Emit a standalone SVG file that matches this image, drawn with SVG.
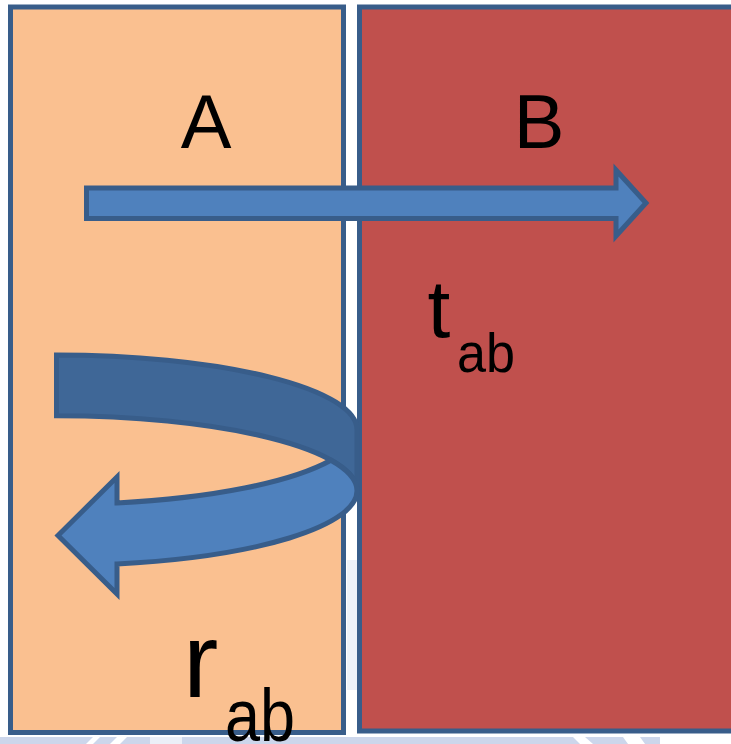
<svg xmlns="http://www.w3.org/2000/svg" width="731" height="744" viewBox="0 0 731 744">
  <style>
    .box { stroke: #385D8A; stroke-width: 5; }
    .arrow { fill: #4F81BD; stroke: #385D8A; stroke-width: 5; stroke-linejoin: miter; }
    .arrowdark { fill: #3F6797; stroke: #385D8A; stroke-width: 5; stroke-linejoin: miter; }
    .lbl { font-family: "Liberation Sans", Arial, sans-serif; fill: #000000; }
    .wm { fill: #C3CFE8; }
  </style>
  <rect x="0" y="0" width="731" height="744" fill="#FFFFFF"/>
  <g id="watermark">
    <rect class="wm" x="347" y="560" width="10" height="130" opacity="0.3"/>
    <rect class="wm" x="0" y="737" width="731" height="7" opacity="0.85"/>
    <polygon points="86,744 93,737 100,737 93,744" fill="#FFFFFF"/>
    <polygon points="110,744 117,737 127,737 120,744" fill="#FFFFFF"/>
    <polygon points="150,737 182,737 182,744 150,744" fill="#FFFFFF" opacity="0.6"/>
    <polygon points="573,737 585,737 593,744 580,744" fill="#FFFFFF"/>
    <polygon points="623,737 640,737 645,744 628,744" fill="#FFFFFF"/>
    <rect x="660" y="737" width="71" height="7" fill="#FFFFFF"/>
  </g>
  <g id="nodeA">
    <rect class="box" x="10.5" y="7" width="333" height="725.5" fill="#FAC090"/>
    <text class="lbl" x="206" y="148" font-size="76" text-anchor="middle">A</text>
  </g>
  <g id="nodeB">
    <rect class="box" x="359.5" y="7" width="380" height="724" fill="#C0504D"/>
    <text class="lbl" x="539" y="148" font-size="76" text-anchor="middle">B</text>
  </g>
  <g id="connectors">
    <polygon class="arrow" points="86.5,188 616,188 616,170 646,203 616,236 616,218.5 86.5,218.5"/>
    <path class="arrowdark" d="M56.5,355 A300.5,74.75 0 0 1 357,429.75 L357,490.75 A300.5,74.75 0 0 0 56.5,415.75 Z"/>
    <path class="arrow" d="M357,490.75 A300.5,74.75 0 0 1 117,563.97 L117,594 L58,535.5 L117,477 L117,502.97 A300.5,74.75 0 0 0 330.85,460.25 A300.5,74.75 0 0 1 357,490.75 Z"/>
  </g>
  <g id="label-t">
    <text class="lbl" x="439" y="337" font-size="82" text-anchor="middle">t</text>
    <text class="lbl" x="457" y="372" font-size="56" textLength="58" lengthAdjust="spacingAndGlyphs">ab</text>
  </g>
  <g id="label-r">
    <text class="lbl" x="183" y="697" font-size="106">r</text>
    <text class="lbl" x="225" y="741" font-size="74" textLength="70" lengthAdjust="spacingAndGlyphs">ab</text>
  </g>
</svg>
